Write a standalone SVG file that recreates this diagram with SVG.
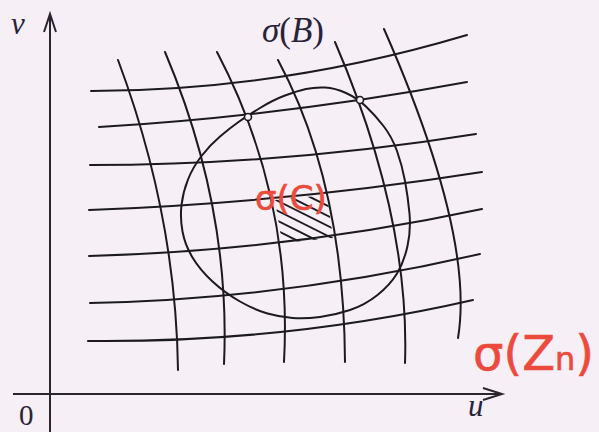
<svg xmlns="http://www.w3.org/2000/svg" width="599" height="432" viewBox="0 0 599 432">
<style>
.ln{fill:none;stroke:#1c1a1f;stroke-width:2;stroke-linecap:round}
.ax{fill:none;stroke:#2a2630;stroke-width:2}
.tx{font-family:"Liberation Serif",serif;fill:#2a2338}
.red{font-family:"DejaVu Sans",sans-serif;fill:#ec4a3c;stroke:#ec4a3c;stroke-width:0.6}
.dot{fill:#f6eff6;stroke:#1c1a1f;stroke-width:1.6}
</style>
<defs>
<clipPath id="sq"><polygon points="275,200 327,195 333,238 282,243"/></clipPath>
</defs>
<rect width="599" height="432" fill="#f6eff6"/>
<g id="axes">
<path class="ax" d="M50,432 V16"/>
<path class="ax" d="M44,32 L50,14 L56,32"/>
<path class="ax" d="M13,394 H500"/>
<path class="ax" d="M483,388 L502,394 L483,400"/>
<text class="tx" x="11" y="34" font-size="31" font-style="italic">v</text>
<text class="tx" x="19" y="425" font-size="29">0</text>
<text class="tx" x="468" y="416" font-size="31" font-style="italic">u</text>
</g>
<g id="connectors">
<path class="ln" d="M91,91 Q279,91 467,35"/>
<path class="ln" d="M99,127 Q283,116 467,82"/>
<path class="ln" d="M90,165 Q283,165 476,134"/>
<path class="ln" d="M89,210 Q285,203 482,172"/>
<path class="ln" d="M89,256 Q285,251 482,209"/>
<path class="ln" d="M90,303 Q285,299 480,254"/>
<path class="ln" d="M88,341 Q285,343 473,300"/>
<path class="ln" d="M118,60 Q176,215 178,370"/>
<path class="ln" d="M165,52 Q231,208 224,364"/>
<path class="ln" d="M217,52 Q293,197 284,362"/>
<path class="ln" d="M278,60 Q344,183 345,362"/>
<path class="ln" d="M335,42 Q410,217 405,363"/>
<path class="ln" d="M384,29 Q475,236 458,338"/>
</g>
<g id="sigmaB">
<path class="ln" d="M238.5,122 Q247,116 260,108 Q273,100 285,95.5 Q297,91 306,89 Q315,87 325,87.5 Q335,88 346,93 Q357,98 366,106.5 Q375,115 383.5,126 Q392,137 397,151 Q402,165 405,181 Q408,197 409.5,213.5 Q411,230 407.5,246 Q404,262 397,273.5 Q390,285 377.5,295 Q365,305 350,310 Q335,315 320,317 Q305,319 292.5,318 Q280,317 267.5,313.5 Q255,310 240,301.5 Q225,293 212.5,281.5 Q200,270 192.5,257.5 Q185,245 182.5,231.5 Q180,218 181.5,205 Q183,192 188,179.5 Q193,167 201.5,156 Q210,145 220,136.5 Q230,128 238.5,122 Z"/>
<circle class="dot" cx="248" cy="117" r="3.5"/>
<circle class="dot" cx="360" cy="100" r="3.5"/>
<text class="tx" x="262" y="42" font-size="35"><tspan font-style="italic">σ</tspan>(<tspan font-style="italic">B</tspan>)</text>
</g>
<g id="cell">
<g clip-path="url(#sq)" class="ln" stroke-width="1.8">
<path d="M260,172 L350,217 M260,182 L350,227 M260,192 L350,237 M260,202 L350,247 M260,212 L350,257 M260,222 L350,267 M260,232 L350,277 M260,242 L350,287"/>
</g>
<text class="red" x="255" y="210" font-size="34">σ(C)</text>
</g>
<g id="sigmaZn">
<text class="red" x="473" y="370" font-size="48">σ(Z<tspan font-size="32">n</tspan>)</text>
</g>
</svg>
